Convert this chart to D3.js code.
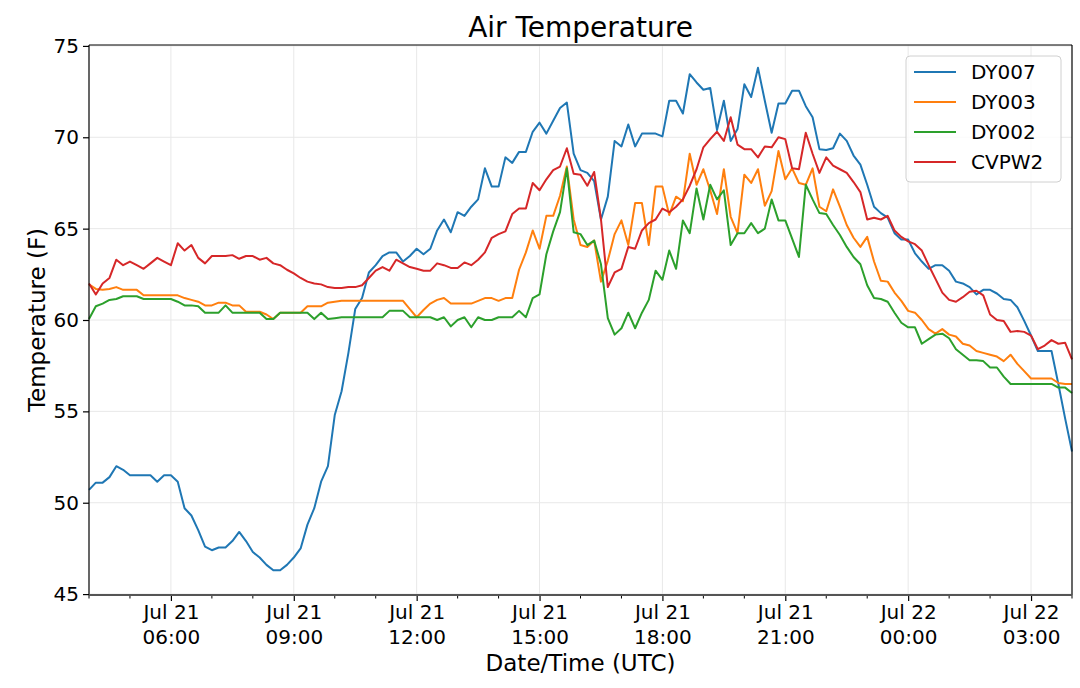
<!DOCTYPE html>
<html>
<head>
<meta charset="utf-8">
<script src="https://cdn.jsdelivr.net/npm/d3@7"></script>
<style>
  body { margin: 0; background: #fff; }
  text { font-family: "DejaVu Sans", sans-serif; fill: #000; }
</style>
</head>
<body>
<div id="chart"></div>
<script>
// 10-minute samples, Jul 21 04:00 UTC -> Jul 22 04:00 UTC
const startTime = new Date(Date.UTC(2019, 6, 21, 4, 0));
const endTime = new Date(Date.UTC(2019, 6, 22, 4, 0));

const seriesNames = ["DY007", "DY003", "DY002", "CVPW2"];
const seriesColors = ["#1f77b4", "#ff7f0e", "#2ca02c", "#d62728"];

const dy007 = [
  50.7, 51.1, 51.1, 51.4, 52.0, 51.8, 51.5, 51.5, 51.5, 51.5,
  51.15, 51.5, 51.5, 51.15, 49.7, 49.3, 48.5, 47.6, 47.4, 47.55,
  47.55, 47.9, 48.4, 47.9, 47.3, 47.0, 46.6, 46.3, 46.3, 46.6,
  47.0, 47.5, 48.8, 49.7, 51.15, 52.0, 54.8, 56.1, 58.2, 60.6,
  61.2, 62.6, 63.0, 63.5, 63.7, 63.7, 63.2, 63.5, 63.9, 63.6,
  63.9, 64.9, 65.5, 64.8, 65.9, 65.7, 66.2, 66.6, 68.3, 67.3,
  67.3, 68.9, 68.6, 69.2, 69.2, 70.3, 70.8, 70.2, 70.9, 71.6,
  71.9, 69.1, 68.2, 68.05, 67.6, 65.5, 66.75, 69.8, 69.5, 70.7,
  69.5, 70.2, 70.2, 70.2, 70.05, 72.0, 72.0, 71.3, 73.45, 73.0,
  72.6, 72.7, 70.4, 72.0, 69.8, 70.45, 72.9, 72.2, 73.8, 72.0,
  70.25, 71.85, 71.85, 72.55, 72.55, 71.7, 71.1, 69.35, 69.3, 69.4,
  70.2, 69.8, 69.0, 68.5, 67.4, 66.2, 65.85, 65.6, 64.75, 64.4,
  64.4, 63.65, 63.2, 62.8, 63.0, 63.0, 62.7, 62.1, 62.0, 61.8,
  61.4, 61.65, 61.65, 61.45, 61.15, 61.1, 60.7, 59.95, 59.15, 58.3,
  58.3, 58.3, 56.5, 54.6, 52.8
];

const dy003 = [
  61.95, 61.7, 61.65, 61.7, 61.8, 61.65, 61.65, 61.65, 61.35, 61.35,
  61.35, 61.35, 61.35, 61.35, 61.2, 61.1, 61.0, 60.8, 60.8, 60.95,
  60.95, 60.8, 60.8, 60.45, 60.45, 60.45, 60.3, 60.05, 60.4, 60.4,
  60.4, 60.4, 60.75, 60.75, 60.75, 60.95, 61.0, 61.05, 61.05, 61.05,
  61.05, 61.05, 61.05, 61.05, 61.05, 61.05, 61.05, 60.6, 60.15, 60.55,
  60.9, 61.1, 61.2, 60.9, 60.9, 60.9, 60.9, 61.05, 61.2, 61.2,
  61.05, 61.2, 61.2, 62.75, 63.7, 64.9, 63.9, 65.7, 65.7, 66.8,
  68.4, 65.5, 64.1, 64.0, 64.35, 62.1, 63.25, 64.7, 65.45, 64.1,
  66.4, 66.4, 64.1, 67.3, 67.3, 65.75, 66.75, 66.5, 69.1, 67.4,
  68.25, 67.1, 65.8, 68.25, 65.65, 64.75, 67.95, 67.5, 68.25, 66.25,
  67.05, 69.25, 67.7, 68.3, 67.5, 67.4, 68.3, 66.2, 65.95, 67.15,
  66.2, 65.2, 64.5, 64.0, 64.55, 63.2, 62.15, 62.1, 61.5, 61.05,
  60.5, 60.4, 60.0, 59.5, 59.25, 59.5, 59.2, 59.1, 58.7, 58.6,
  58.3, 58.2, 58.1, 58.0, 57.75, 58.1, 57.6, 57.2, 56.8, 56.8,
  56.8, 56.8, 56.55, 56.5, 56.5
];

const dy002 = [
  60.05, 60.75, 60.9, 61.1, 61.15, 61.3, 61.3, 61.3, 61.15, 61.15,
  61.15, 61.15, 61.15, 61.0, 60.8, 60.8, 60.75, 60.4, 60.4, 60.4,
  60.8, 60.4, 60.4, 60.4, 60.4, 60.4, 60.05, 60.05, 60.4, 60.4,
  60.4, 60.4, 60.4, 60.05, 60.4, 60.05, 60.1, 60.15, 60.15, 60.15,
  60.15, 60.15, 60.15, 60.15, 60.5, 60.5, 60.5, 60.15, 60.15, 60.15,
  60.15, 60.0, 60.15, 59.65, 60.0, 60.15, 59.6, 60.15, 60.0, 60.0,
  60.15, 60.15, 60.15, 60.5, 60.15, 61.2, 61.4, 63.6, 64.85, 65.9,
  68.3, 64.8, 64.7, 64.1, 64.35, 63.05, 60.1, 59.2, 59.55, 60.4,
  59.55, 60.4, 61.1, 62.7, 62.2, 63.8, 62.8, 65.45, 64.75, 67.2,
  65.5, 67.4, 66.6, 67.1, 64.1, 64.75, 64.75, 65.3, 64.75, 65.0,
  66.6, 65.45, 65.45, 64.45, 63.45, 67.4, 66.6, 65.85, 65.8, 65.2,
  64.65, 64.0, 63.45, 63.05, 61.9, 61.2, 61.15, 61.0, 60.4, 59.85,
  59.6, 59.6, 58.7, 58.95, 59.2, 59.25, 59.0, 58.4, 58.1, 57.8,
  57.8, 57.75, 57.4, 57.4, 56.9, 56.5, 56.5, 56.5, 56.5, 56.5,
  56.5, 56.5, 56.3, 56.3, 56.0
];

const cvpw2 = [
  62.0, 61.4, 62.0, 62.3, 63.3, 63.0, 63.2, 63.0, 62.8, 63.1,
  63.4, 63.2, 63.0, 64.2, 63.8, 64.1, 63.4, 63.1, 63.5, 63.5,
  63.5, 63.55, 63.35, 63.5, 63.5, 63.3, 63.4, 63.1, 63.0, 62.75,
  62.55, 62.3, 62.1, 62.0, 61.95, 61.8, 61.75, 61.75, 61.8, 61.8,
  61.9, 62.3, 62.7, 62.9, 62.7, 63.3, 63.1, 62.9, 62.8, 62.7,
  62.7, 63.1, 63.0, 62.85, 62.85, 63.15, 63.0, 63.3, 63.7, 64.5,
  64.7, 64.85, 65.8, 66.1, 66.1, 67.5, 67.1, 67.7, 68.2, 68.4,
  69.4, 68.0, 67.95, 67.35, 68.1, 65.5, 61.8, 62.6, 62.8, 64.0,
  63.9, 64.9, 65.3, 65.5, 66.1, 65.9, 66.2, 66.6, 67.35, 68.25,
  69.45, 69.9, 70.3, 69.8, 71.1, 69.6, 69.35, 69.35, 68.9, 69.5,
  69.45, 70.0, 69.9, 68.3, 68.25, 70.25, 69.1, 68.05, 68.9, 68.45,
  68.25, 68.05, 67.55, 67.0, 65.5, 65.6, 65.5, 65.7, 64.9, 64.55,
  64.3, 64.15, 63.8, 63.0, 62.25, 61.5, 61.1, 61.0, 61.25, 61.55,
  61.6, 61.35, 60.3, 60.0, 59.95, 59.35, 59.4, 59.35, 59.15, 58.4,
  58.6, 58.9, 58.7, 58.75, 57.85
];

const yTicks = [45, 50, 55, 60, 65, 70, 75];

const allSeries = [dy007, dy003, dy002, cvpw2];
const times = d3.utcMinute.every(10).range(startTime, new Date(+endTime + 1));

const width = 1080, height = 688;
const margin = { top: 45, right: 8, bottom: 93, left: 89 };
const plotLeft = margin.left, plotRight = width - margin.right;
const plotTop = margin.top, plotBottom = height - margin.bottom;

const svg = d3.select("#chart")
  .append("svg")
  .attr("width", width)
  .attr("height", height);

const x = d3.scaleUtc()
  .domain([startTime, endTime])
  .range([plotLeft, plotRight]);

const y = d3.scaleLinear()
  .domain([44.95, 75.05])
  .range([plotBottom, plotTop]);

// grid
const majorX = d3.utcHour.every(3).range(startTime, endTime);
svg.append("g")
  .selectAll("line")
  .data(majorX)
  .join("line")
  .attr("x1", d => x(d)).attr("x2", d => x(d))
  .attr("y1", plotTop).attr("y2", plotBottom)
  .attr("stroke", "#e8e8e8").attr("stroke-width", 1);

svg.append("g")
  .selectAll("line")
  .data(yTicks)
  .join("line")
  .attr("x1", plotLeft).attr("x2", plotRight)
  .attr("y1", d => y(d)).attr("y2", d => y(d))
  .attr("stroke", "#e8e8e8").attr("stroke-width", 1);

// lines
const line = d3.line()
  .x((d, i) => x(times[i]))
  .y(d => y(d));

svg.append("g")
  .selectAll("path")
  .data(allSeries)
  .join("path")
  .attr("d", d => line(d))
  .attr("fill", "none")
  .attr("stroke", (d, i) => seriesColors[i])
  .attr("stroke-width", 2)
  .attr("stroke-linejoin", "round");

// x axis
const fmtDay = d3.utcFormat("%b %d");
const fmtTime = d3.utcFormat("%H:%M");
const xAxis = svg.append("g")
  .attr("transform", `translate(0,${plotBottom})`)
  .call(d3.axisBottom(x).tickValues(majorX).tickSize(6).tickFormat(""));
xAxis.select(".domain").remove();
xAxis.selectAll(".tick line").attr("stroke", "#000").attr("stroke-width", 1.2);

xAxis.selectAll(".tick")
  .append("text")
  .attr("text-anchor", "middle")
  .style("font-size", "20px")
  .each(function (d) {
    const t = d3.select(this);
    t.append("tspan").attr("x", 0).attr("y", 24).text(fmtDay(d));
    t.append("tspan").attr("x", 0).attr("y", 49).text(fmtTime(d));
  });

const minorX = d3.utcHour.every(1).range(startTime, new Date(+endTime + 1))
  .filter(d => d.getUTCHours() % 3 !== 0);
svg.append("g")
  .selectAll("line")
  .data(minorX)
  .join("line")
  .attr("x1", d => x(d)).attr("x2", d => x(d))
  .attr("y1", plotBottom)
  .attr("y2", plotBottom + 3.5)
  .attr("stroke", "#000").attr("stroke-width", 1);

// y axis
const yAxis = svg.append("g")
  .attr("transform", `translate(${plotLeft},0)`)
  .call(d3.axisLeft(y).tickValues(yTicks).tickSize(6).tickPadding(4));
yAxis.select(".domain").remove();
yAxis.selectAll(".tick line").attr("stroke", "#000").attr("stroke-width", 1.2);
yAxis.selectAll(".tick text")
  .style("font-size", "20px")
  .style("font-family", "DejaVu Sans, sans-serif")
  .attr("fill", "#000");

// spines
svg.append("line").attr("x1", plotLeft).attr("x2", plotRight).attr("y1", plotTop).attr("y2", plotTop)
  .attr("stroke", "#000").attr("stroke-width", 1.2);
svg.append("line").attr("x1", plotLeft).attr("x2", plotLeft).attr("y1", plotTop).attr("y2", plotBottom)
  .attr("stroke", "#000").attr("stroke-width", 1.2);
svg.append("line").attr("x1", plotRight).attr("x2", plotRight).attr("y1", plotTop).attr("y2", plotBottom)
  .attr("stroke", "#000").attr("stroke-width", 1.2);
svg.append("line").attr("x1", plotLeft).attr("x2", plotRight).attr("y1", plotBottom).attr("y2", plotBottom)
  .attr("stroke", "#555").attr("stroke-width", 2);

// titles
svg.append("text")
  .attr("x", (plotLeft + plotRight) / 2).attr("y", 37)
  .attr("text-anchor", "middle")
  .style("font-size", "28px")
  .text("Air Temperature");

svg.append("text")
  .attr("x", (plotLeft + plotRight) / 2).attr("y", 671)
  .attr("text-anchor", "middle")
  .style("font-size", "23px")
  .text("Date/Time (UTC)");

svg.append("text")
  .attr("transform", `translate(45,${(plotTop + plotBottom) / 2}) rotate(-90)`)
  .attr("text-anchor", "middle")
  .style("font-size", "23px")
  .text("Temperature (F)");

// legend
const legend = svg.append("g").attr("transform", "translate(906,56)");
legend.append("rect")
  .attr("width", 155).attr("height", 126)
  .attr("rx", 4)
  .attr("fill", "#fff").attr("fill-opacity", 0.8)
  .attr("stroke", "#d0d0d0");

const entries = legend.selectAll("g.entry")
  .data(seriesNames)
  .join("g")
  .attr("class", "entry")
  .attr("transform", (d, i) => `translate(0,${16 + i * 30})`);
entries.append("line")
  .attr("x1", 8).attr("x2", 50)
  .attr("stroke", (d, i) => seriesColors[i])
  .attr("stroke-width", 2);
entries.append("text")
  .attr("x", 65).attr("y", 7)
  .style("font-size", "20px")
  .text(d => d);
</script>
</body>
</html>
